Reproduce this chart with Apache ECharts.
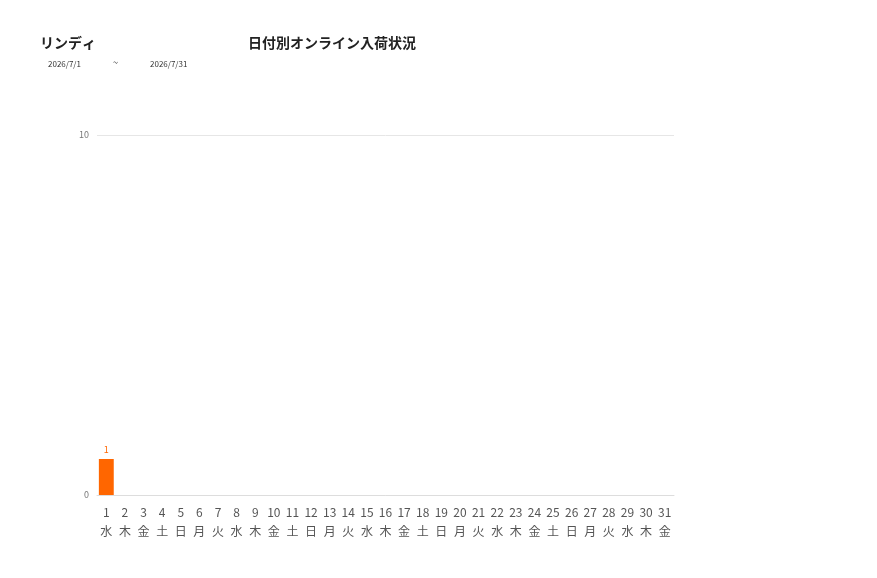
<!DOCTYPE html>
<html>
<head>
<meta charset="utf-8">
<script src="https://cdn.jsdelivr.net/npm/echarts@6/dist/echarts.min.js"></script>
<style>
  html, body { margin: 0; padding: 0; background: #fff; }
  #chartContainer { width: 877px; height: 578px; }
</style>
</head>
<body>
<div id="chartContainer"></div>
<script>
var days = ['1','2','3','4','5','6','7','8','9','10','11','12','13','14','15','16','17','18','19','20','21','22','23','24','25','26','27','28','29','30','31'];
var weekdays = ['水','木','金','土','日','月','火','水','木','金','土','日','月','火','水','木','金','土','日','月','火','水','木','金','土','日','月','火','水','木','金'];
var arrivals = [1,0,0,0,0,0,0,0,0,0,0,0,0,0,0,0,0,0,0,0,0,0,0,0,0,0,0,0,0,0,0];
var yTicks = [0, 10];

var categories = days.map(function (d, i) { return d + '\n' + weekdays[i]; });

var myChart = echarts.init(document.getElementById('chartContainer'));
var option = {
    animation: false,
    textStyle: { fontFamily: '"Noto Sans CJK JP", "Noto Sans", sans-serif' },
    title: [
        { text: 'リンディ', left: 35, top: 31, textStyle: { fontSize: 14, fontWeight: 'bold', color: '#222' } },
        { text: '日付別オンライン入荷状況', left: 243, top: 31, textStyle: { fontSize: 14, fontWeight: 'bold', color: '#222' } },
        { text: '2026/7/1', left: 43, top: 55, textStyle: { fontSize: 8, fontWeight: 'normal', color: '#333' } },
        { text: '~', left: 108, top: 53, textStyle: { fontSize: 9, fontWeight: 'normal', color: '#333' } },
        { text: '2026/7/31', left: 145, top: 55, textStyle: { fontSize: 8, fontWeight: 'normal', color: '#333' } }
    ],
    grid: { left: 97, right: 203, top: 135, bottom: 83 },
    xAxis: {
        type: 'category',
        data: categories,
        axisLine: { lineStyle: { color: '#ddd' } },
        axisTick: { show: false },
        axisLabel: { color: '#555', fontSize: 12, lineHeight: 19, margin: 8, interval: 0 }
    },
    yAxis: {
        type: 'value',
        min: yTicks[0],
        max: yTicks[yTicks.length - 1],
        interval: yTicks[1] - yTicks[0],
        axisLine: { show: false },
        axisTick: { show: false },
        splitLine: { lineStyle: { color: '#e6e6e6' } },
        axisLabel: { color: '#777', fontSize: 9, margin: 8 }
    },
    series: [{
        type: 'bar',
        data: arrivals,
        barWidth: '80%',
        itemStyle: { color: '#ff6600' },
        label: {
            show: true,
            position: 'top',
            color: '#ff6600',
            fontSize: 9,
            formatter: function (p) { return p.value > 0 ? p.value : ''; }
        }
    }]
};
myChart.setOption(option);
</script>
</body>
</html>
